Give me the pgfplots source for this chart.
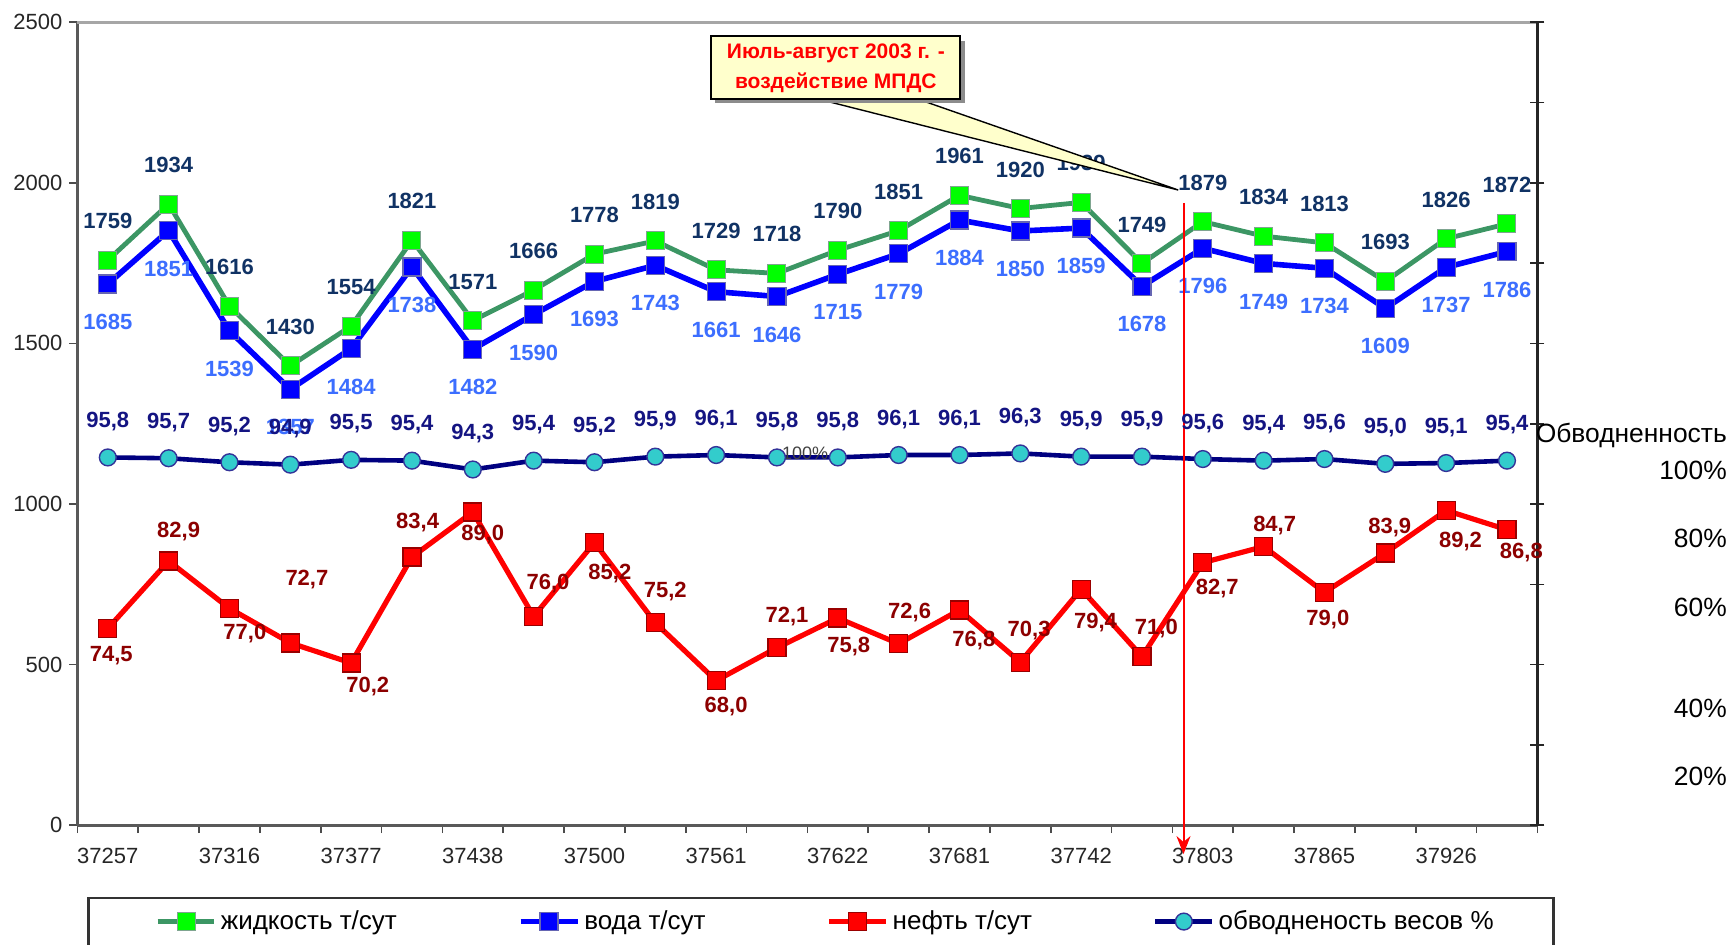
\documentclass[border=0pt]{standalone}
\usepackage{fontspec}
\setmainfont{Liberation Sans}
\usepackage{pgfplots}
\usepackage{pgfplotstable}
\pgfplotsset{compat=1.18}
\usetikzlibrary{arrows.meta}

\definecolor{liqline}{RGB}{60,150,100}
\definecolor{liqmark}{RGB}{0,255,0}
\definecolor{watline}{RGB}{0,0,255}
\definecolor{watmarkb}{RGB}{0,0,128}
\definecolor{oilline}{RGB}{255,0,0}
\definecolor{oilmarkb}{RGB}{153,0,0}
\definecolor{obvline}{RGB}{0,0,128}
\definecolor{obvmark}{RGB}{51,204,204}
\definecolor{liqlab}{RGB}{16,50,100}
\definecolor{watlab}{RGB}{60,110,255}
\definecolor{oillab}{RGB}{140,0,0}
\definecolor{obvlab}{RGB}{20,20,130}
\definecolor{callfill}{RGB}{255,255,204}

\tikzset{dlab/.style={font=\bfseries\fontsize{11}{13}\selectfont, anchor=center}}

\pgfplotstableread{
x liq wat
0 1759 1685
1 1934 1851
2 1616 1539
3 1430 1357
4 1554 1484
5 1821 1738
6 1571 1482
7 1666 1590
8 1778 1693
9 1819 1743
10 1729 1661
11 1718 1646
12 1790 1715
13 1851 1779
14 1961 1884
15 1920 1850
16 1939 1859
17 1749 1678
18 1879 1796
19 1834 1749
20 1813 1734
21 1693 1609
22 1826 1737
23 1872 1786
}\liqtable

\pgfplotstableread{
x val lab dx dy
0 74.5 74,5 1.7 -13.8
1 82.9 82,9 5.0 15.0
2 77.0 77,0 7.7 -12.8
3 72.7 72,7 8.3 31.5
4 70.2 70,2 8.3 -11.6
5 83.4 83,4 2.8 17.0
6 89.0 89,0 5.0 -11.1
7 76.0 76,0 7.2 16.6
8 85.2 85,2 7.7 -15.5
9 75.2 75,2 5.0 15.5
10 68.0 68,0 5.0 -12.7
11 72.1 72,1 5.0 15.5
12 75.8 75,8 5.5 -14.4
13 72.6 72,6 5.5 15.5
14 76.8 76,8 7.2 -15.5
15 70.3 70,3 4.4 16.0
16 79.4 79,4 7.2 -16.6
17 71.0 71,0 7.2 13.8
18 82.7 82,7 7.2 -12.7
19 84.7 84,7 5.5 10.4
20 79.0 79,0 1.7 -13.8
21 83.9 83,9 2.2 12.6
22 89.2 89,2 7.2 -15.5
23 86.8 86,8 7.2 -11.6
}\oiltable

\pgfplotstableread{
x val lab
0 95.8 95,8
1 95.7 95,7
2 95.2 95,2
3 94.9 94,9
4 95.5 95,5
5 95.4 95,4
6 94.3 94,3
7 95.4 95,4
8 95.2 95,2
9 95.9 95,9
10 96.1 96,1
11 95.8 95,8
12 95.8 95,8
13 96.1 96,1
14 96.1 96,1
15 96.3 96,3
16 95.9 95,9
17 95.9 95,9
18 95.6 95,6
19 95.4 95,4
20 95.6 95,6
21 95.0 95,0
22 95.1 95,1
23 95.4 95,4
}\obvtable

\begin{document}
\begin{tikzpicture}
\useasboundingbox (-38.7pt,-59.7pt) rectangle (828.3pt,412.6pt);
\pgfplotsset{
  legend image code/.code={\draw[mark repeat=2,mark phase=2] plot coordinates {(0cm,0cm) (0.5cm,0cm) (1.0cm,0cm)};},
}
\begin{axis}[
  scale only axis, width=730pt, height=401.5pt,
  xmin=-0.5, xmax=23.5, ymin=0, ymax=2500,
  axis x line*=bottom, axis y line*=left,
  axis line style={draw=black!65, line width=1.3pt},
  xtick={0,2,...,22},
  xticklabels={37257,37316,37377,37438,37500,37561,37622,37681,37742,37803,37865,37926},
  major x tick style={draw=none},
  minor xtick={-0.5,0.5,...,23.5},
  minor tick length=4pt,
  ytick={0,500,...,2500},
  tick align=outside,
  major tick length=4pt,
  tick style={draw=black!70, line width=0.8pt},
  ticklabel style={font=\fontsize{11}{13}\selectfont, text=black!85},
  xticklabel style={yshift=-4pt},
  /pgf/number format/assume math mode=true,
  /pgf/number format/1000 sep={},
  clip=false,
]
\draw[black!35, line width=1.3pt] (rel axis cs:0,1) -- (rel axis cs:1,1);
\addplot[liqline, line width=2.4pt, mark=square*, mark size=4.5pt,
  mark options={fill=liqmark, draw=liqline!70!black!60, line width=0.5pt},
  nodes near coords, point meta=explicit symbolic,
  nodes near coords style={dlab, text=liqlab, yshift=19.5pt}]
  table[x=x, y=liq, meta=liq] {\liqtable};
\addplot[watline, line width=2.8pt, mark=square*, mark size=4.5pt,
  mark options={fill=watline, draw=watmarkb!60, line width=0.6pt},
  nodes near coords, point meta=explicit symbolic,
  nodes near coords style={dlab, text=watlab, yshift=-19pt}]
  table[x=x, y=wat, meta=wat] {\liqtable};
\end{axis}

\begin{axis}[
  scale only axis, width=730pt, height=401.5pt,
  xmin=-0.5, xmax=23.5, ymin=50, ymax=150,
  axis x line=none, axis y line*=right,
  axis line style={draw=black!85, line width=1.3pt},
  ytick={50,60,...,150}, yticklabels={},
  tick align=center, major tick length=7pt,
  tick style={draw=black!85, line width=0.8pt},
  clip=false,
  legend columns=4,
  legend style={at={(axis description cs:0.053,-0.12)}, anchor=west,
    draw=none, fill=none, inner sep=0pt,
    font=\fontsize{13}{15}\selectfont,
    /tikz/every even column/.append style={column sep=58.5pt}},
]
\addlegendimage{liqline, line width=2.4pt, mark=square*, mark size=4.5pt, mark options={fill=liqmark, draw=liqline!70!black!60, line width=0.5pt}}
\addlegendentry{жидкость т/сут}
\addlegendimage{watline, line width=2.8pt, mark=square*, mark size=4.5pt, mark options={fill=watline, draw=watmarkb!60, line width=0.6pt}}
\addlegendentry{вода т/сут}
\addplot[oilline, line width=2.6pt, mark=square*, mark size=4.5pt,
  mark options={fill=oilline, draw=oilmarkb, line width=0.6pt},
  nodes near coords, point meta=explicit symbolic,
  visualization depends on={\thisrow{dx} \as \dx},
  visualization depends on={\thisrow{dy} \as \dy},
  nodes near coords style={dlab, text=oillab, xshift=\dx pt, yshift=\dy pt}]
  table[x=x, y=val, meta=lab] {\oiltable};
\addlegendentry{нефть т/сут}
\addplot[obvline, line width=2.3pt, mark=*, mark size=4.2pt,
  mark options={fill=obvmark, draw=obvline!80, line width=0.7pt},
  nodes near coords, point meta=explicit symbolic,
  nodes near coords style={dlab, text=obvlab, yshift=18pt}]
  table[x=x, y=val, meta=lab] {\obvtable};
\addlegendentry{обводненость весов \%}

\node[font=\fontsize{9}{11}\selectfont, text=black!75] at (axis description cs:0.4985,0.463) {100\%};

% callout
\draw[fill=callfill, draw=black, line width=0.7pt] (axis description cs:0.508,0.904) -- (axis description cs:0.754,0.791) -- (axis description cs:0.576,0.904);
\fill[black!45] ([xshift=2pt,yshift=-2pt]axis description cs:0.434,0.982) rectangle ([xshift=2pt,yshift=-2pt]axis description cs:0.605,0.904);
\node[draw=black, line width=1pt, fill=callfill, minimum width=124.5pt, minimum height=31.5pt, align=center, text=red, inner sep=1pt, font=\bfseries\fontsize{10.5}{15}\selectfont] at (axis description cs:0.5195,0.943) {Июль-август 2003 г. -\\воздействие МПДС};

% red arrow
\draw[red, line width=1pt, -{Stealth[length=9pt,width=7pt]}] (axis description cs:0.7576,0.775) -- (axis description cs:0.7576,-0.036);

% right side labels
\begin{scope}[every node/.style={anchor=east, font=\fontsize{13.2}{15}\selectfont, text=black, inner sep=0pt}]
\node at (axis description cs:1.130,0.486) {Обводненность};
\node at (axis description cs:1.130,0.442) {100\%};
\node at (axis description cs:1.130,0.357) {80\%};
\node at (axis description cs:1.130,0.271) {60\%};
\node at (axis description cs:1.130,0.146) {40\%};
\node at (axis description cs:1.130,0.0606) {20\%};
\end{scope}

% legend frame
\draw[black!80, line width=1.2pt] (axis description cs:0.0076,-0.0909) rectangle (axis description cs:1.011,-0.25);
\end{axis}
\end{tikzpicture}
\end{document}
